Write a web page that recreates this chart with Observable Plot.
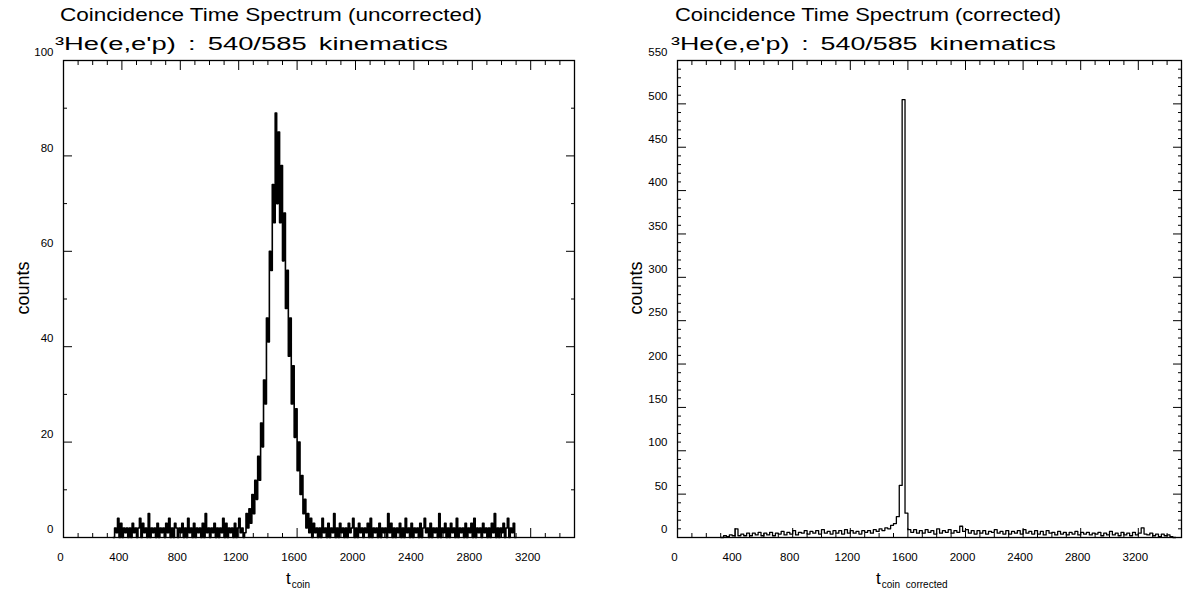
<!DOCTYPE html>
<html>
<head>
<meta charset="utf-8">
<script src="https://cdn.jsdelivr.net/npm/d3@7"></script>
<script src="https://cdn.jsdelivr.net/npm/@observablehq/plot@0.6"></script>
<style>
  html, body { margin: 0; padding: 0; background: #fff; }
  #wrap { position: relative; width: 1186px; height: 601px; overflow: hidden; background: #fff; }
  #wrap svg { position: absolute; top: 0; }
</style>
</head>
<body>
<div id="wrap"></div>
<script>
// ---------------- data ----------------
const leftTitle = "Coincidence Time Spectrum (uncorrected)";
const rightTitle = "Coincidence Time Spectrum (corrected)";
const subtitle = "³He(e,e'p) : 540/585 kinematics";
const yLabel = "counts";
const leftXLabelSub = "coin";
const rightXLabelSub = "coin corrected";

const xTicks = [0, 400, 800, 1200, 1600, 2000, 2400, 2800, 3200];
const leftYTicks = [0, 20, 40, 60, 80, 100];
const rightYTicks = [0, 50, 100, 150, 200, 250, 300, 350, 400, 450, 500, 550];

// uncorrected spectrum: channels of width 10 starting at t = 340
const leftStart = 340;
const leftBinWidth = 10;
const leftCounts = [
  // 340 - 1230 background
  0,2,1,4,0,3,0,2,1,2, 0,2,0,3,1,2,0,2,4,0, 3,1,2,0,5,0,2,1,2,0, 3,0,2,1,2,0,3,1,4,0,
  2,0,3,2,0,2,1,3,0,2, 0,4,1,2,0,3,0,2,1,2, 0,3,0,5,1,2,0,2,1,3, 0,2,0,2,1,4,0,3,0,2,
  1,2,0,3,0,2,4,1,2,0,
  // 1240 - 1690 peak
  1,5,2,6,3,9,5,12,8,17, 12,24,19,33,28,46,41,60,56,74, 66,89,70,85,66,78,58,68,48,56,
  38,46,28,36,21,27,14,20,9,13, 5,8,2,5,1,4,
  // 1700 - 3090 background
  0,3,1,2,0,2,0,4,1,2, 0,3,0,2,1,5,0,2,0,3, 1,2,0,2,0,3,1,2,4,0, 2,0,3,1,2,0,2,1,3,0,
  4,0,2,1,2,0,3,0,2,1, 2,0,5,1,3,0,2,0,2,1, 3,0,2,0,4,1,2,0,3,0, 2,1,2,0,3,0,2,4,1,2,
  0,3,0,2,1,2,0,5,0,2, 1,3,0,2,0,3,1,2,0,4, 0,2,1,2,0,3,0,2,1,3, 0,4,0,2,1,2,0,3,1,2,
  0,2,0,3,1,5,0,2,0,2, 1,3,0,2,4,0,2,1,3,0
];

// corrected spectrum: channels of width 20 starting at t = 300
const rightStart = 300;
const rightBinWidth = 20;
const rightCounts = [
  0,2,1,3,2,10,2,4,2,5,
  2,5,3,6,2,5,3,6,2,5,
  4,7,3,6,4,8,3,6,5,8,
  4,7,5,8,4,9,5,7,4,8,
  5,8,4,9,5,8,5,7,4,8,
  6,8,5,9,7,10,8,11,10,14,
  16,24,60,505,28,9,6,9,5,8,
  5,9,6,8,4,10,5,8,6,9,
  5,8,6,13,7,9,5,8,4,8,
  5,8,4,7,6,9,5,7,4,8,
  4,7,5,8,4,9,5,7,4,8,
  4,7,3,8,5,6,3,7,4,6,
  3,6,4,7,3,6,4,6,3,5,
  4,6,2,5,3,7,3,5,2,6,
  3,5,2,6,3,5,11,4,3,5,
  2,4,1,4,2,3,1,0
];

// ---------------- helpers ----------------
function histPoints(start, w, counts) {
  const pts = [{x: start, y: 0}];
  counts.forEach((c, i) => pts.push({x: start + i * w, y: c}));
  pts.push({x: start + counts.length * w, y: 0});
  return pts;
}

const FONT = "'Liberation Sans', Arial, Helvetica, sans-serif";
const xMinor = d3.range(100, 3500, 100).filter(v => v % 400 !== 0);

function panel({width, marginLeft, marginRight, yDomain, yTicks, yMinorStep, data, lineWidth}) {
  const yMinor = d3.range(yDomain[0], yDomain[1] + 0.001, yMinorStep).filter(v => !yTicks.includes(v));
  return Plot.plot({
    width, height: 601,
    marginLeft, marginRight, marginTop: 60, marginBottom: 64,
    x: {domain: [0, 3500]},
    y: {domain: yDomain},
    style: {fontFamily: FONT, fontSize: "11.5px", background: "transparent", color: "black"},
    marks: [
      Plot.line(data, {x: "x", y: "y", curve: "step-after", stroke: "black", strokeWidth: lineWidth}),
      Plot.frame({stroke: "black", strokeWidth: 1.3}),
      // inward major ticks
      Plot.axisX(xTicks, {anchor: "bottom", tickSize: 9, dy: -9, fill: "none", label: null}),
      Plot.axisX(xTicks, {anchor: "top", tickSize: 9, dy: 9, fill: "none", label: null}),
      Plot.axisY(yTicks, {anchor: "left", tickSize: 9, dx: 9, fill: "none", label: null}),
      Plot.axisY(yTicks, {anchor: "right", tickSize: 9, dx: -9, fill: "none", label: null}),
      // inward minor ticks
      Plot.axisX(xMinor, {anchor: "bottom", tickSize: 4, dy: -4, fill: "none", label: null}),
      Plot.axisX(xMinor, {anchor: "top", tickSize: 4, dy: 4, fill: "none", label: null}),
      Plot.axisY(yMinor, {anchor: "left", tickSize: 4, dx: 4, fill: "none", label: null}),
      Plot.axisY(yMinor, {anchor: "right", tickSize: 4, dx: -4, fill: "none", label: null}),
      // tick labels
      Plot.axisX(xTicks, {anchor: "bottom", tickSize: 0, tickPadding: 15, dx: -3, label: null, tickFormat: d => String(d)}),
      Plot.axisY(yTicks, {anchor: "left", tickSize: 0, tickPadding: 10, dy: -8, label: null, tickFormat: d => String(d)})
    ]
  });
}

function decorate(svgNode, {titleX, titleLen, subX, subLen, title, ylabX, xlabX, sub}) {
  const svg = d3.select(svgNode);
  const addText = (x, y, size, txt, len) => svg.append("text")
      .attr("x", x).attr("y", y).attr("text-anchor", "start")
      .attr("textLength", len).attr("lengthAdjust", "spacingAndGlyphs")
      .style("font-family", FONT).style("font-size", size + "px")
      .attr("fill", "black").text(txt);
  addText(titleX, 21, 17.5, title, titleLen);
  addText(subX, 50, 18, subtitle, subLen).style("word-spacing", "3px");
  svg.append("text")
    .attr("transform", `translate(${ylabX},288) rotate(-90)`)
    .attr("text-anchor", "middle")
    .style("font-family", FONT).style("font-size", "18px")
    .attr("fill", "black").text(yLabel);
  const t = svg.append("text").attr("x", xlabX).attr("y", 584).attr("text-anchor", "start")
    .style("font-family", FONT).attr("fill", "black");
  t.append("tspan").style("font-size", "17px").text("t");
  t.append("tspan").attr("dy", 4).attr("dx", 1).style("font-size", "10px").style("word-spacing", "3px").text(sub);
}

const wrap = document.getElementById("wrap");

const leftPlot = panel({
  width: 593, marginLeft: 63, marginRight: 19,
  yDomain: [0, 100], yTicks: leftYTicks, yMinorStep: 10,
  data: histPoints(leftStart, leftBinWidth, leftCounts), lineWidth: 1.6
});
leftPlot.style.left = "0px";
decorate(leftPlot, {titleX: 60, titleLen: 422, subX: 55, subLen: 393, title: leftTitle, ylabX: 29, xlabX: 286, sub: leftXLabelSub});
wrap.appendChild(leftPlot);

const rightPlot = panel({
  width: 593, marginLeft: 84, marginRight: 5,
  yDomain: [0, 550], yTicks: rightYTicks, yMinorStep: 10,
  data: histPoints(rightStart, rightBinWidth, rightCounts), lineWidth: 1.3
});
rightPlot.style.left = "593px";
decorate(rightPlot, {titleX: 82, titleLen: 386, subX: 78, subLen: 385, title: rightTitle, ylabX: 49, xlabX: 283, sub: rightXLabelSub});
wrap.appendChild(rightPlot);
</script>
</body>
</html>
